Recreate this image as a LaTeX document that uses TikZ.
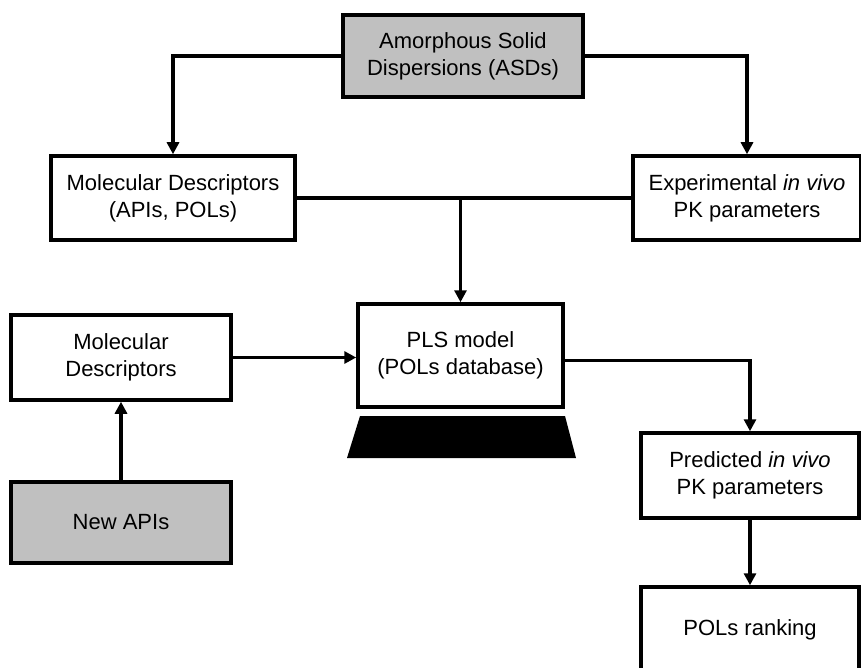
\documentclass[tikz,border=0pt]{standalone}
\usepackage{fontspec}
\setmainfont{Liberation Sans}
\usepackage{tikz}
\usetikzlibrary{arrows.meta}
\definecolor{BoxGrey}{RGB}{192,192,192}

\begin{document}
\begin{tikzpicture}[x=1pt,y=-1pt,
    box/.style={draw=black,line width=3.5pt,fill=white,align=center,inner sep=0pt,
      font=\fontsize{22}{27}\selectfont},
    greybox/.style={box,fill=BoxGrey},
    link/.style={line width=3.5pt},
    arr/.style={link,-{Triangle[length=12pt,width=12pt]}}]
  \useasboundingbox (0,0) rectangle (861,668);
  \clip (0,0) rectangle (861,668);
  % top row
  \node[greybox,minimum width=240pt,minimum height=82pt] (asd) at (463,56) {Amorphous Solid\\Dispersions (ASDs)};
  \node[box,minimum width=244pt,minimum height=84pt] (mdesc) at (173,198) {Molecular Descriptors\\(APIs, POLs)};
  \node[box,minimum width=228pt,minimum height=84pt] (expk) at (747,198) {Experimental \textit{in vivo}\\PK parameters};
  % model
  \node[box,minimum width=205pt,minimum height=103pt] (pls) at (460.5,355.5) {PLS model\\(POLs database)};
  \fill (360,416) -- (565,416) -- (576,458) -- (347,458) -- cycle;
  \node[box,minimum width=220pt,minimum height=85pt] (mdnew) at (121,357.5) {Molecular\\Descriptors};
  \node[greybox,minimum width=220pt,minimum height=81pt] (newapi) at (121,522.5) {New APIs};
  % outputs
  \node[box,minimum width=218pt,minimum height=85pt] (pred) at (750,475.5) {Predicted \textit{in vivo}\\PK parameters};
  \node[box,minimum width=218pt,minimum height=85pt] (rank) at (750,629.5) {POLs ranking};
  % connectors
  \draw[arr] (asd.west) -| (mdesc.north);
  \draw[arr] (asd.east) -| (expk.north);
  \draw[link] (mdesc.east) -- (expk.west);
  \coordinate (join) at (pls.north |- mdesc.east);
  \draw[arr] (join) -- (pls.north);
  \draw[arr] (mdnew.east) -- (mdnew.east -| pls.west);
  \draw[arr] ([yshift=-5pt]pls.east) -| (pred.north);
  \draw[arr] (pred.south) -- (rank.north);
  \draw[arr] (newapi.north) -- (mdnew.south);
\end{tikzpicture}
\end{document}
